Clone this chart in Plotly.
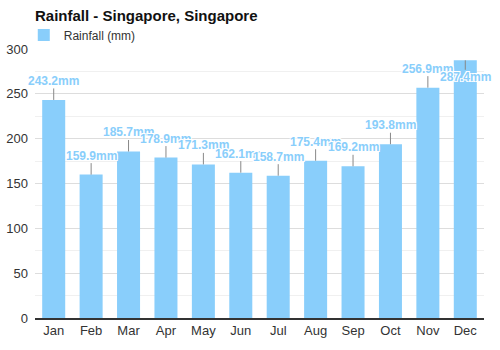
import plotly.graph_objects as go

months = ["Jan", "Feb", "Mar", "Apr", "May", "Jun", "Jul", "Aug", "Sep", "Oct", "Nov", "Dec"]
rainfall = [243.2, 159.9, 185.7, 178.9, 171.3, 162.1, 158.7, 175.4, 169.2, 193.8, 256.9, 287.4]
label_offsets = [-19, -19, -19, -19, -19, -19, -19, -19, -19, -19, -19, 17]
y_ticks = [0, 50, 100, 150, 200, 250, 300]

BAR = "#89CEFB"
FONT = "Liberation Sans, Arial, sans-serif"

fig = go.Figure()
fig.add_trace(go.Bar(
    x=months, y=rainfall, name="Rainfall (mm)",
    marker=dict(color=BAR, line=dict(width=0)),
    hoverinfo="skip",
))

halo = "-1px -1px 0 #fff, 1px -1px 0 #fff, -1px 1px 0 #fff, 1px 1px 0 #fff"
for m, v, off in zip(months, rainfall, label_offsets):
    fig.add_annotation(
        x=m, y=v, text=f"{v}mm", showarrow=True, arrowhead=0, arrowwidth=1,
        arrowcolor="#888888", ax=0, ay=off, standoff=0, startstandoff=0,
        font=dict(family=FONT, size=12, color=BAR, weight="bold", shadow=halo),
        borderpad=0,
    )

fig.update_layout(
    width=500, height=350,
    margin=dict(l=35, r=16, t=49, b=32, autoexpand=False),
    paper_bgcolor="white", plot_bgcolor="white",
    font=dict(family=FONT, size=13, color="#333333"),
    bargap=0.385,
    title=dict(text="<b>Rainfall - Singapore, Singapore</b>", x=35 / 500, xref="container", xanchor="left",
               y=1 - 16 / 350, yref="container", yanchor="middle",
               font=dict(family=FONT, size=15, color="#111111")),
    showlegend=True,
    legend=dict(orientation="h", x=-0.025, xanchor="left", y=1 - 35 / 350, yref="container",
                yanchor="middle", font=dict(family=FONT, size=12, color="#333333"),
                bgcolor="rgba(0,0,0,0)", tracegroupgap=0),
    xaxis=dict(range=[-0.5, len(months) - 0.5], showgrid=False, showline=True,
               linecolor="#333333", linewidth=1.5,
               ticks="", tickfont=dict(size=13, color="#333333"), fixedrange=True,
               automargin=False),
    yaxis=dict(range=[0, 300], tickvals=y_ticks, showgrid=True, gridcolor="#dddddd",
               gridwidth=1, zeroline=False, ticks="", tickfont=dict(size=13, color="#333333"),
               minor=dict(dtick=25, showgrid=True, gridcolor="#f0f0f0", gridwidth=1),
               fixedrange=True, automargin=False, ticklabelstandoff=6),
)

fig.write_html("out.html")
